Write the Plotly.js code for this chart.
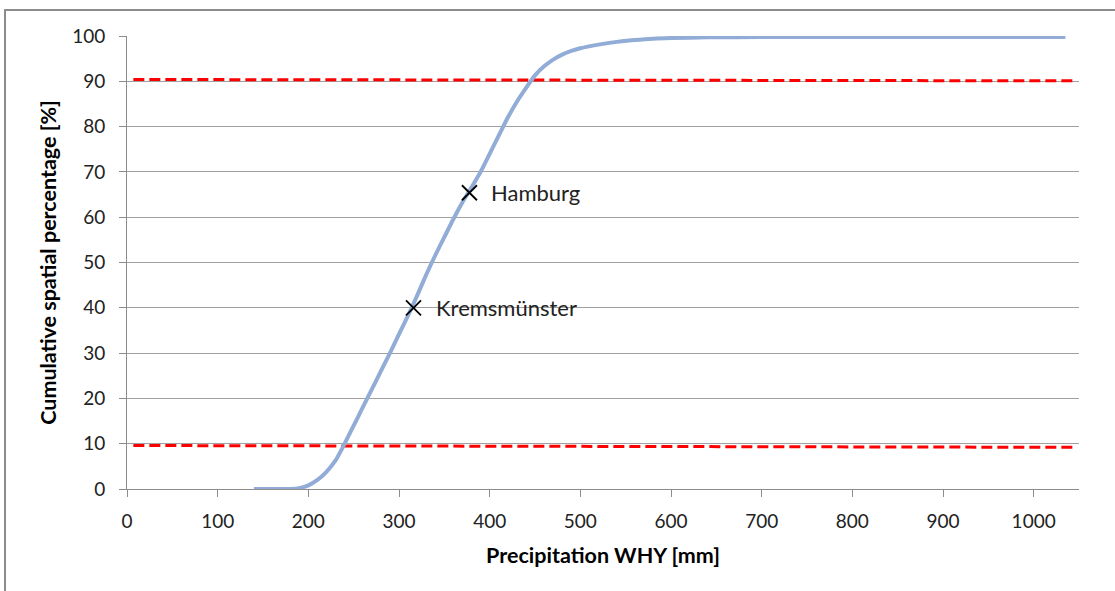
<!DOCTYPE html>
<html>
<head>
<meta charset="utf-8">
<script src="https://cdn.plot.ly/plotly-3.0.1.min.js"></script>
<style>
  html, body { margin: 0; padding: 0; background: #fff; overflow: hidden; }
  #wrap { position: relative; width: 1115px; height: 591px; }
  #frame { position: absolute; left: 4px; top: 9px; width: 1200px; height: 700px; border: 2px solid #8c8c8c; box-sizing: border-box; pointer-events: none; z-index: 5; }
  #chart { position: absolute; left: 0; top: 0; width: 1115px; height: 591px; }
</style>
</head>
<body>
<div id="wrap">
  <div id="chart"></div>
  <div id="frame"></div>
</div>
<script>
// Cumulative distribution of precipitation WHY
const precipX = [140, 150, 160, 170, 180, 190, 200, 210, 220, 230, 240, 250, 260, 270, 280, 290, 300, 310, 320, 330, 340, 350, 360, 370, 380, 390, 400, 410, 420, 430, 440, 450, 460, 470, 480, 490, 500, 520, 540, 560, 580, 600, 640, 700, 800, 900, 1000, 1035];
const cumPct  = [0, 0, 0, 0, 0, 0.2, 0.8, 2.0, 3.8, 6.3, 10.0, 14.0, 18.0, 22.0, 26.0, 30.0, 34.2, 38.3, 42.7, 47.3, 51.6, 55.6, 59.6, 63.3, 66.6, 70.0, 74.0, 78.0, 82.0, 85.5, 88.5, 91.3, 93.3, 94.8, 95.9, 96.7, 97.3, 98.1, 98.7, 99.1, 99.4, 99.55, 99.7, 99.78, 99.8, 99.8, 99.8, 99.8];

// Threshold lines (dashed red)
const thresholdX = [7, 1048];
const upperY = [90.4, 90.1];
const lowerY = [9.6, 9.2];

// Stations
const stationNames = ["Hamburg", "Kremsmünster"];
const stationX = [377.7, 316];
const stationY = [65.4, 40.0];

const fontFam = 'Lato, "Open Sans", sans-serif';

const traces = [
  { x: thresholdX, y: upperY, mode: 'lines', line: { color: '#ff0000', width: 3, dash: '11px,5px' }, hoverinfo: 'skip' },
  { x: thresholdX, y: lowerY, mode: 'lines', line: { color: '#ff0000', width: 3, dash: '11px,5px' }, hoverinfo: 'skip' },
  { x: precipX, y: cumPct, mode: 'lines', line: { color: '#91acd6', width: 4, shape: 'spline', smoothing: 0.6 } },
  { x: stationX, y: stationY, mode: 'markers', marker: { symbol: 'x-thin-open', size: 15, color: '#000', line: { color: '#000', width: 1.8 } } }
];

const annotations = stationNames.map((n, i) => ({
  x: stationX[i], y: stationY[i], xref: 'x', yref: 'y', text: n, showarrow: false,
  xanchor: 'left', yanchor: 'middle', xshift: 20, font: { family: fontFam, size: 22, color: '#222' }
}));

const layout = {
  width: 1115, height: 591,
  margin: { l: 127, r: 36, t: 36, b: 102 },
  paper_bgcolor: '#fff', plot_bgcolor: '#fff',
  showlegend: false,
  font: { family: fontFam, size: 19, color: '#222' },
  xaxis: {
    range: [0, 1050], tickvals: [0,100,200,300,400,500,600,700,800,900,1000],
    showgrid: false, zeroline: false, showline: true, linecolor: '#8c8c8c', linewidth: 1,
    ticks: 'outside', ticklen: 7, tickcolor: '#8c8c8c', ticklabelstandoff: 8,
    title: { text: '<b>Precipitation WHY [mm]</b>', font: { family: fontFam, size: 21.5, color: '#000' }, standoff: 17 }
  },
  yaxis: {
    range: [0, 100], tickvals: [0,10,20,30,40,50,60,70,80,90,100],
    showgrid: true, gridcolor: '#a0a0a0', gridwidth: 1, zeroline: false,
    showline: true, linecolor: '#8c8c8c', linewidth: 1,
    ticks: 'outside', ticklen: 7, tickcolor: '#8c8c8c', ticklabelstandoff: 10,
    title: { text: '<b>Cumulative spatial percentage [%]</b>', font: { family: fontFam, size: 21.5, color: '#000' }, standoff: 9 }
  },
  annotations: annotations
};

Plotly.newPlot('chart', traces, layout, { staticPlot: true, displayModeBar: false });
</script>
</body>
</html>
